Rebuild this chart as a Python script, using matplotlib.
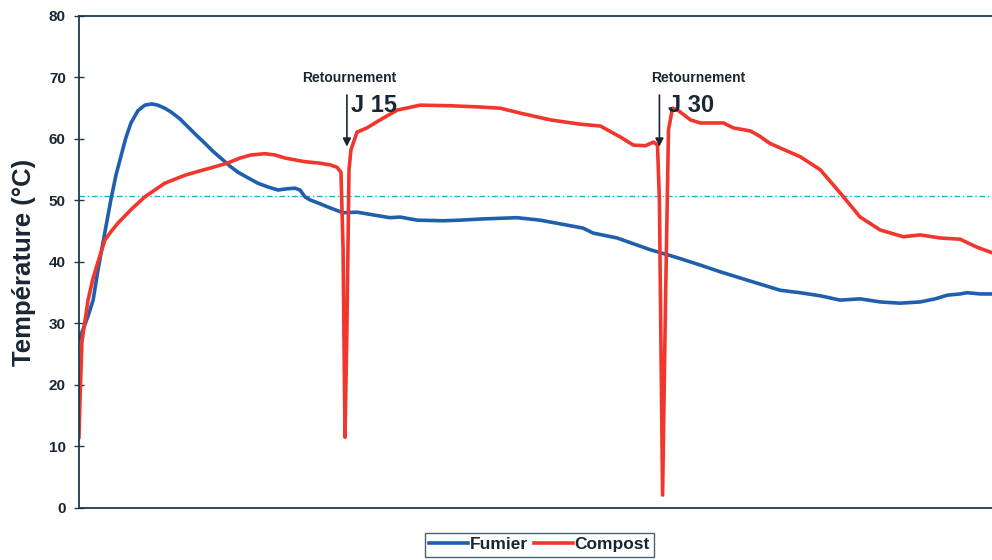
import matplotlib
matplotlib.use('Agg')
import matplotlib.pyplot as plt
from matplotlib.lines import Line2D

plt.rcParams['font.family'] = ['Liberation Sans', 'DejaVu Sans']

# temps en jours, températures en °C
fumier_jours = [2.41, 2.84, 3.08, 3.31, 3.64, 3.92, 4.16, 4.39, 4.63, 4.87, 5.20, 5.53, 5.86, 6.14,
                6.47, 6.76, 7.18, 7.56, 7.94, 8.37, 8.75, 9.12, 9.55, 9.93, 10.40, 10.88, 11.35,
                11.83, 12.25, 12.63, 12.87, 13.10, 13.34, 13.72, 14.29, 14.91, 15.57, 16.42, 17.13,
                17.61, 18.41, 19.64, 20.44, 21.53, 23.14, 24.23, 25.18, 26.27, 26.74, 27.88, 29.44,
                30.72, 31.81, 32.76, 33.70, 34.65, 35.60, 36.54, 37.49, 38.43, 39.38, 40.33, 41.27,
                42.22, 42.93, 43.50, 44.11, 44.44, 45.06, 45.62]
fumier_temp = [27.3, 31.2, 33.8, 38.7, 44.9, 50.1, 54.1, 57.1, 60.2, 62.6, 64.6, 65.5, 65.7, 65.5,
               65.0, 64.4, 63.3, 62.0, 60.7, 59.3, 58.0, 56.9, 55.6, 54.6, 53.7, 52.8, 52.2,
               51.7, 51.9, 52.0, 51.7, 50.6, 50.1, 49.6, 48.8, 48.0, 48.1, 47.6, 47.2,
               47.3, 46.8, 46.7, 46.8, 47.0, 47.2, 46.8, 46.2, 45.5, 44.7, 43.9, 42.0,
               40.7, 39.5, 38.4, 37.4, 36.4, 35.4, 35.0, 34.5, 33.8, 34.0, 33.5, 33.3,
               33.5, 34.0, 34.6, 34.8, 35.0, 34.8, 34.8]

compost_jours = [2.41, 2.46, 2.55, 2.84, 3.08, 3.31, 3.64, 3.92, 4.25, 4.87, 5.53, 6.00, 6.47, 7.42,
                 8.13, 8.66, 9.46, 10.03, 10.55, 11.21, 11.69, 12.16, 12.63, 13.10, 13.72, 14.29,
                 14.62, 14.81, 14.91, 15.00, 15.09, 15.19, 15.28, 15.57, 16.04, 16.66, 17.47, 18.56,
                 19.98, 21.40, 22.35, 23.30, 24.72, 26.14, 27.09, 28.04, 28.65, 29.22, 29.60, 29.79,
                 29.88, 30.03, 30.17, 30.31, 30.50, 30.74, 31.35, 31.82, 32.91, 33.38, 34.19, 34.65,
                 35.10, 35.75, 36.55, 37.49, 38.44, 39.38, 40.33, 41.42, 42.22, 43.17, 44.11, 44.91,
                 45.62]
compost_temp = [11.5, 17.6, 27.0, 33.8, 37.4, 40.0, 43.6, 44.9, 46.3, 48.5, 50.6, 51.7, 52.8, 54.1,
                54.8, 55.3, 56.1, 56.9, 57.4, 57.6, 57.4, 56.9, 56.6, 56.3, 56.1, 55.8,
                55.4, 54.6, 42.0, 11.5, 29.0, 55.0, 58.2, 61.1, 61.8, 63.1, 64.7, 65.5,
                65.4, 65.2, 65.0, 64.2, 63.1, 62.4, 62.1, 60.3, 59.0, 58.9, 59.5, 59.0,
                50.0, 2.1, 33.8, 61.5, 65.0, 64.7, 63.1, 62.6, 62.6, 61.8, 61.3, 60.4,
                59.3, 58.3, 57.1, 55.0, 51.2, 47.3, 45.2, 44.1, 44.4, 43.9, 43.7, 42.4,
                41.5]

retournements = [15, 30]
etiquettes_j = ['J 15', 'J 30']
seuil = 50.8
y_ticks = [0, 10, 20, 30, 40, 50, 60, 70, 80]

c_axe = '#1c3a4a'
c_texte = '#1a2634'
c_bleu = '#1f5fae'
c_rouge = '#f0362d'

fig = plt.figure(figsize=(9.92, 5.6), dpi=100)
ax = fig.add_axes([0.0796, 0.0929, 0.9204, 0.8786])

ax.axhline(seuil, color='#1aaed0', lw=1, linestyle=(0, (4, 2, 1, 2)))
ax.plot(fumier_jours, fumier_temp, color=c_bleu, lw=2.6, solid_joinstyle='round')
ax.plot(compost_jours, compost_temp, color=c_rouge, lw=2.6, solid_joinstyle='round')

ax.set_xlim(2.41, 45.62)
ax.set_ylim(0, 80)
ax.set_yticks(y_ticks)
ax.set_xticks([])
ax.tick_params(axis='y', direction='inout', length=7, width=1, color=c_axe,
               labelsize=11, labelcolor=c_texte, pad=6)
for lab in ax.get_yticklabels():
    lab.set_fontweight('bold')
for s in ['left', 'bottom', 'top']:
    ax.spines[s].set_color(c_axe)
    ax.spines[s].set_linewidth(1.3)
ax.spines['right'].set_visible(False)

ax.set_ylabel('Température (°C)', fontsize=18.5, fontweight='bold', color=c_texte, labelpad=9)

# flèches de retournement
fleche_x = [15.09, 29.88]
texte_x = [15.19, 31.7]
j_x = [15.28, 30.31]
for i in range(len(retournements)):
    ax.annotate('', xy=(fleche_x[i], 58.3), xytext=(fleche_x[i], 67.6),
                arrowprops=dict(arrowstyle='-|>', color=c_texte, lw=1.2, mutation_scale=12))
    ax.text(texte_x[i], 69.9, 'Retournement', ha='center', va='center', fontsize=10,
            fontweight='bold', color=c_texte)
    ax.text(j_x[i], 65.4, etiquettes_j[i], ha='left', va='center', fontsize=17,
            fontweight='bold', color=c_texte)

handles = [Line2D([0], [0], color=c_bleu, lw=2.6), Line2D([0], [0], color=c_rouge, lw=2.6)]
leg = fig.legend(handles, ['Fumier', 'Compost'], loc='center', bbox_to_anchor=(0.544, 0.027),
                 ncol=2, frameon=True, fancybox=False, prop={'weight': 'bold', 'size': 12.5},
                 handlelength=2.2, handletextpad=0.1, columnspacing=0.4, borderpad=0.25)
leg.get_frame().set_edgecolor(c_axe)
leg.get_frame().set_linewidth(1)
for t in leg.get_texts():
    t.set_color(c_texte)

fig.savefig('out.png', dpi=100)
